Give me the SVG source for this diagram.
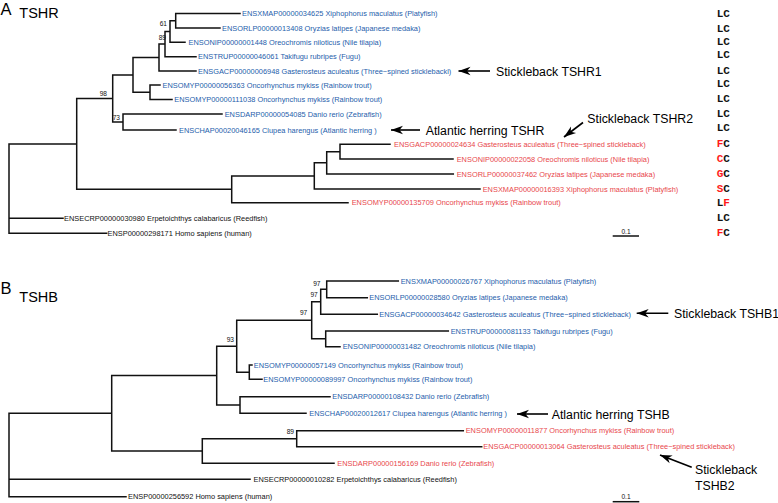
<svg xmlns="http://www.w3.org/2000/svg" width="778" height="503" viewBox="0 0 778 503">
<defs>
<style>
.br{fill:none;stroke:#111;stroke-width:1.5;stroke-linejoin:miter;stroke-linecap:square}
.t{font-family:"Liberation Sans",Arial,sans-serif;font-size:7.4px}
.bl{fill:#2560ab}
.rd{fill:#e8474c}
.bk{fill:#111}
.bs{font-family:"Liberation Sans",Arial,sans-serif;font-size:6.6px;fill:#111}
.an{font-family:"Liberation Sans",Arial,sans-serif;font-size:12.3px;fill:#000}
.ttl{font-family:"Liberation Sans",Arial,sans-serif;fill:#000}
.lc{font-family:"Liberation Mono","Courier New",monospace;font-size:11px;font-weight:bold;fill:#111}
.lc .r{fill:#ff1a1a}
.arr{stroke:#000;stroke-width:1.6;fill:none;marker-end:url(#ah)}
.sc{stroke:#111;stroke-width:1.5}
</style>
<marker id="ah" markerUnits="userSpaceOnUse" markerWidth="14" markerHeight="10" viewBox="-13 -5 14 10" refX="0" refY="0" orient="auto">
<path d="M0,0 L-12,-4.2 L-8.5,0 L-12,4.2 Z" fill="#000"/>
</marker>
</defs>
<rect width="778" height="503" fill="#fff"/>

<g id="titles">
<text class="ttl" x="0.5" y="14.8" font-size="16.5">A</text>
<text class="ttl" x="19.3" y="18.3" font-size="14.5">TSHR</text>
<text class="ttl" x="0.5" y="294.3" font-size="16.5">B</text>
<text class="ttl" x="19.3" y="302.3" font-size="14.5">TSHB</text>
</g>

<g id="connectors">
<path class="br" d="M240,13.5 H175.7 V28 H220 M175.7,20.75 H170 V42.3 H185 M170,31.5 H165 V56.7 H196 M165,44.1 H159 V71 H196 M160,85 H150 V99.5 H172 M159,57.5 H133 V92.3 H150 M222,114 H123 V130 H176 M133,74.9 H112.7 V122 H123 M390,144.3 H340 V159 H453 M340,151.65 H326.7 V174 H453.3 M326.7,162.8 H314.3 V189 H480 M314.3,176 H231.7 V202.7 H348 M112.7,98.5 H76.7 V189.35 H231.7 M76.7,143.9 H9 V233.3 H106.7 M9,218.3 H63"/>
<path class="br" d="M398.3,281 H326.7 V297.7 H367.3 M326.7,289.35 H320.7 V314.3 H377.3 M448.3,331 H325.7 V346.7 H340 M320.7,301.8 H311.7 V338.85 H325.7 M252,365 H249.3 V379.3 H262 M311.7,320.3 H236.7 V372.15 H249.3 M330,396.7 H240 V413.3 H306 M236.7,346.2 H216.7 V405 H240 M463.3,430.7 H296.7 V446.7 H481.7 M296.7,438.7 H202.3 V463.3 H334 M216.7,375.6 H111.7 V451 H202.3 M111.7,413.3 H9 V496.7 H126 M9,479.3 H250"/>
<line class="arr" x1="490" y1="71" x2="458.5" y2="71"/>
<line class="arr" x1="420" y1="130" x2="391" y2="130"/>
<line class="arr" x1="583" y1="122.5" x2="564" y2="137"/>
<line class="arr" x1="668.3" y1="313.3" x2="636.7" y2="313.3"/>
<line class="arr" x1="548" y1="414" x2="517" y2="414"/>
<line class="arr" x1="691.7" y1="467.3" x2="660" y2="455"/>
<line class="sc" x1="612.7" y1="236" x2="639" y2="236"/>
<line class="sc" x1="612.7" y1="501.7" x2="639.3" y2="501.7"/>
</g>

<g id="bootstrapA">
<text class="bs" x="167" y="26.3" text-anchor="end">61</text>
<text class="bs" x="166" y="39.8" text-anchor="end">89</text>
<text class="bs" x="107" y="95.5" text-anchor="end">98</text>
<text class="bs" x="120" y="119.5" text-anchor="end">73</text>
</g>
<g id="bootstrapB">
<text class="bs" x="320.5" y="285.6" text-anchor="end">97</text>
<text class="bs" x="317.8" y="297.3" text-anchor="end">97</text>
<text class="bs" x="307.3" y="315" text-anchor="end">97</text>
<text class="bs" x="234" y="342.3" text-anchor="end">93</text>
<text class="bs" x="294" y="434" text-anchor="end">89</text>
</g>

<g id="tipA1"><text class="t bl" x="242" y="16.2">ENSXMAP00000034625 Xiphophorus maculatus (Platyfish)</text></g>
<g id="tipA2"><text class="t bl" x="222" y="30.7">ENSORLP00000013408 Oryzias latipes (Japanese medaka)</text></g>
<g id="tipA3"><text class="t bl" x="188.5" y="45">ENSONIP00000001448 Oreochromis niloticus (Nile tilapia)</text></g>
<g id="tipA4"><text class="t bl" x="198" y="59.4">ENSTRUP00000046061 Takifugu rubripes (Fugu)</text></g>
<g id="tipA5"><text class="t bl" x="198" y="73.7">ENSGACP00000006948 Gasterosteus aculeatus (Three−spined sticklebackl)</text></g>
<g id="tipA6"><text class="t bl" x="162.5" y="87.7">ENSOMYP00000056363 Oncorhynchus mykiss (Rainbow trout)</text></g>
<g id="tipA7"><text class="t bl" x="174.3" y="102.2">ENSOMYP00000111038 Oncorhynchus mykiss (Rainbow trout)</text></g>
<g id="tipA8"><text class="t bl" x="224.7" y="116.7">ENSDARP00000054085 Danio rerio (Zebrafish)</text></g>
<g id="tipA9"><text class="t bl" x="179" y="132.7">ENSCHAP00020046165 Clupea harengus (Atlantic herring )</text></g>
<g id="tipA10"><text class="t rd" x="394" y="147">ENSGACP00000024634 Gasterosteus aculeatus (Three−spined stickleback)</text></g>
<g id="tipA11"><text class="t rd" x="456.7" y="161.7">ENSONIP00000022058 Oreochromis niloticus (Nile tilapia)</text></g>
<g id="tipA12"><text class="t rd" x="456.7" y="176.7">ENSORLP00000037462 Oryzias latipes (Japanese medaka)</text></g>
<g id="tipA13"><text class="t rd" x="482.7" y="191.7">ENSXMAP00000016393 Xiphophorus maculatus (Platyfish)</text></g>
<g id="tipA14"><text class="t rd" x="351.7" y="205.4">ENSOMYP00000135709 Oncorhynchus mykiss (Rainbow trout)</text></g>
<g id="tipA15"><text class="t bk" x="64" y="221">ENSECRP00000030980 Erpetoichthys calabaricus (Reedfish)</text></g>
<g id="tipA16"><text class="t bk" x="107.5" y="236">ENSP00000298171 Homo sapiens (human)</text></g>

<g id="motifsA" class="lc">
<text x="716.7" y="17">LC</text>
<text x="716.7" y="31.5">LC</text>
<text x="716.7" y="44.8">LC</text>
<text x="716.7" y="58">LC</text>
<text x="716.7" y="73.5">LC</text>
<text x="716.7" y="87">LC</text>
<text x="716.7" y="101.8">LC</text>
<text x="716.7" y="116.6">LC</text>
<text x="716.7" y="130.6">LC</text>
<text x="716.7" y="147.3"><tspan class="r">F</tspan>C</text>
<text x="716.7" y="162.3"><tspan class="r">C</tspan>C</text>
<text x="716.7" y="177.3"><tspan class="r">G</tspan>C</text>
<text x="716.7" y="192.3"><tspan class="r">S</tspan>C</text>
<text x="716.7" y="206">L<tspan class="r">F</tspan></text>
<text x="716.7" y="221">LC</text>
<text x="716.7" y="235.6"><tspan class="r">F</tspan>C</text>
</g>

<g id="tipB1"><text class="t bl" x="400.7" y="283.7">ENSXMAP00000026767 Xiphophorus maculatus (Platyfish)</text></g>
<g id="tipB2"><text class="t bl" x="369.3" y="300.4">ENSORLP00000028580 Oryzias latipes (Japanese medaka)</text></g>
<g id="tipB3"><text class="t bl" x="379.3" y="317">ENSGACP00000034642 Gasterosteus aculeatus (Three−spined stickleback)</text></g>
<g id="tipB4"><text class="t bl" x="450.7" y="333.7">ENSTRUP00000081133 Takifugu rubripes (Fugu)</text></g>
<g id="tipB5"><text class="t bl" x="342.7" y="349.4">ENSONIP00000031482 Oreochromis niloticus (Nile tilapia)</text></g>
<g id="tipB6"><text class="t bl" x="253.8" y="367.5">ENSOMYP00000057149 Oncorhynchus mykiss (Rainbow trout)</text></g>
<g id="tipB7"><text class="t bl" x="263.3" y="382">ENSOMYP00000089997 Oncorhynchus mykiss (Rainbow trout)</text></g>
<g id="tipB8"><text class="t bl" x="332.3" y="399.4">ENSDARP00000108432 Danio rerio (Zebrafish)</text></g>
<g id="tipB9"><text class="t bl" x="309.3" y="416">ENSCHAP00020012617 Clupea harengus (Atlantic herring )</text></g>
<g id="tipB10"><text class="t rd" x="465.7" y="433.4">ENSOMYP00000011877 Oncorhynchus mykiss (Rainbow trout)</text></g>
<g id="tipB11"><text class="t rd" x="483.3" y="449.4">ENSGACP00000013064 Gasterosteus aculeatus (Three−spined stickleback)</text></g>
<g id="tipB12"><text class="t rd" x="337.3" y="466">ENSDARP00000156169 Danio rerio (Zebrafish)</text></g>
<g id="tipB13"><text class="t bk" x="253.5" y="482">ENSECRP00000010282 Erpetoichthys calabaricus (Reedfish)</text></g>
<g id="tipB14"><text class="t bk" x="128" y="499.4">ENSP00000256592 Homo sapiens (human)</text></g>

<g id="annotations">
<text class="an" x="496" y="76">Stickleback TSHR1</text>
<text class="an" x="425.7" y="134.5">Atlantic herring TSHR</text>
<text class="an" x="587.3" y="122.7">Stickleback TSHR2</text>
<text class="an" x="674" y="317.7">Stickleback TSHB1</text>
<text class="an" x="551.7" y="418.7">Atlantic herring TSHB</text>
<text class="an" x="695" y="473.7">Stickleback</text>
<text class="an" x="695" y="490.4">TSHB2</text>
</g>

<g id="scalebars">
<text class="bs" x="626" y="234" text-anchor="middle">0.1</text>
<text class="bs" x="626" y="499.3" text-anchor="middle">0.1</text>
</g>
</svg>
